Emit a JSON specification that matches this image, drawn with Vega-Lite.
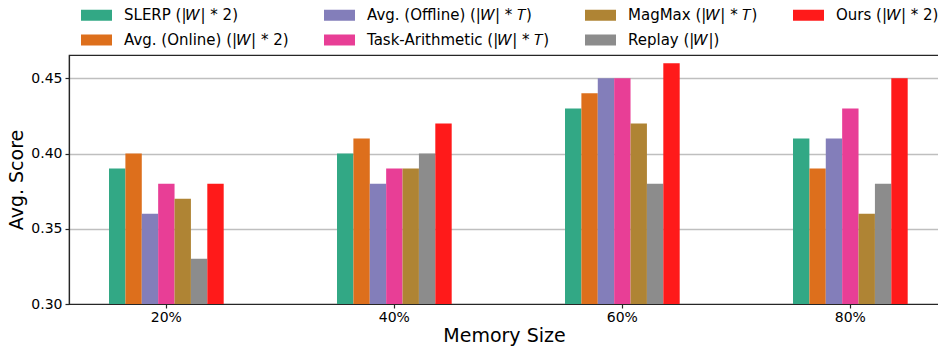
{
  "$schema": "https://vega.github.io/schema/vega-lite/v6.json",
  "autosize": {"type": "none"},
  "padding": {"left": 69, "top": 55, "right": 0, "bottom": 42},
  "width": 870,
  "height": 249,
  "config": {
    "font": "DejaVu Sans",
    "view": {"stroke": "#262626", "strokeWidth": 1.2},
    "axis": {
      "labelFont": "DejaVu Sans",
      "titleFont": "DejaVu Sans",
      "labelFontSize": 14,
      "titleFontSize": 19,
      "titleFontWeight": "normal",
      "labelColor": "#000000",
      "titleColor": "#000000",
      "domainColor": "#262626",
      "domainWidth": 1.2,
      "tickColor": "#262626",
      "tickWidth": 1.2,
      "tickSize": 4,
      "labelPadding": 3,
      "zindex": 1
    },
    "legend": {
      "labelFont": "DejaVu Sans",
      "labelFontSize": 15,
      "labelColor": "#000000",
      "labelLimit": 0
    }
  },
  "data": {
    "values": [
      {"group": "20%", "method": "SLERP (|𝑊| * 2)", "value": 0.39},
      {"group": "20%", "method": "Avg. (Online) (|𝑊| * 2)", "value": 0.40},
      {"group": "20%", "method": "Avg. (Offline) (|𝑊| * 𝑇)", "value": 0.36},
      {"group": "20%", "method": "Task-Arithmetic (|𝑊| * 𝑇)", "value": 0.38},
      {"group": "20%", "method": "MagMax (|𝑊| * 𝑇)", "value": 0.37},
      {"group": "20%", "method": "Replay (|𝑊|)", "value": 0.33},
      {"group": "20%", "method": "Ours (|𝑊| * 2)", "value": 0.38},
      {"group": "40%", "method": "SLERP (|𝑊| * 2)", "value": 0.40},
      {"group": "40%", "method": "Avg. (Online) (|𝑊| * 2)", "value": 0.41},
      {"group": "40%", "method": "Avg. (Offline) (|𝑊| * 𝑇)", "value": 0.38},
      {"group": "40%", "method": "Task-Arithmetic (|𝑊| * 𝑇)", "value": 0.39},
      {"group": "40%", "method": "MagMax (|𝑊| * 𝑇)", "value": 0.39},
      {"group": "40%", "method": "Replay (|𝑊|)", "value": 0.40},
      {"group": "40%", "method": "Ours (|𝑊| * 2)", "value": 0.42},
      {"group": "60%", "method": "SLERP (|𝑊| * 2)", "value": 0.43},
      {"group": "60%", "method": "Avg. (Online) (|𝑊| * 2)", "value": 0.44},
      {"group": "60%", "method": "Avg. (Offline) (|𝑊| * 𝑇)", "value": 0.45},
      {"group": "60%", "method": "Task-Arithmetic (|𝑊| * 𝑇)", "value": 0.45},
      {"group": "60%", "method": "MagMax (|𝑊| * 𝑇)", "value": 0.42},
      {"group": "60%", "method": "Replay (|𝑊|)", "value": 0.38},
      {"group": "60%", "method": "Ours (|𝑊| * 2)", "value": 0.46},
      {"group": "80%", "method": "SLERP (|𝑊| * 2)", "value": 0.41},
      {"group": "80%", "method": "Avg. (Online) (|𝑊| * 2)", "value": 0.39},
      {"group": "80%", "method": "Avg. (Offline) (|𝑊| * 𝑇)", "value": 0.41},
      {"group": "80%", "method": "Task-Arithmetic (|𝑊| * 𝑇)", "value": 0.43},
      {"group": "80%", "method": "MagMax (|𝑊| * 𝑇)", "value": 0.36},
      {"group": "80%", "method": "Replay (|𝑊|)", "value": 0.38},
      {"group": "80%", "method": "Ours (|𝑊| * 2)", "value": 0.45}
    ]
  },
  "mark": {"type": "bar", "clip": true},
  "encoding": {
    "x": {
      "field": "group",
      "type": "nominal",
      "sort": ["20%", "40%", "60%", "80%"],
      "scale": {"paddingInner": 0.497, "paddingOuter": 0.1564, "align": 0.561},
      "axis": {"labelAngle": 0, "title": "Memory Size", "titlePadding": 2, "labelPadding": 2, "grid": false}
    },
    "xOffset": {
      "field": "method",
      "type": "nominal",
      "scale": {
        "domain": ["SLERP (|𝑊| * 2)", "Avg. (Online) (|𝑊| * 2)", "Avg. (Offline) (|𝑊| * 𝑇)", "Task-Arithmetic (|𝑊| * 𝑇)", "MagMax (|𝑊| * 𝑇)", "Replay (|𝑊|)", "Ours (|𝑊| * 2)"],
        "paddingInner": 0,
        "paddingOuter": 0
      }
    },
    "y": {
      "field": "value",
      "type": "quantitative",
      "scale": {"domain": [0.30, 0.4655], "nice": false, "zero": false},
      "axis": {
        "title": "Avg. Score",
        "values": [0.30, 0.35, 0.40, 0.45],
        "format": ".2f",
        "grid": true,
        "gridColor": "#bfbfbf",
        "gridWidth": 1.5,
        "gridOpacity": {"condition": {"test": "datum.value <= 0.3", "value": 0}, "value": 1},
        "titlePadding": 4
      }
    },
    "color": {
      "field": "method",
      "type": "nominal",
      "scale": {
        "domain": ["SLERP (|𝑊| * 2)", "Avg. (Offline) (|𝑊| * 𝑇)", "MagMax (|𝑊| * 𝑇)", "Ours (|𝑊| * 2)", "Avg. (Online) (|𝑊| * 2)", "Task-Arithmetic (|𝑊| * 𝑇)", "Replay (|𝑊|)"],
        "range": ["#32a885", "#837eba", "#af8434", "#ff1a1a", "#dd6f1c", "#e83e96", "#8c8c8c"]
      },
      "legend": {
        "title": null,
        "orient": "none",
        "legendX": 12,
        "legendY": -55.5,
        "direction": "horizontal",
        "columns": 4,
        "symbolType": "M-1,-0.355H1V0.355H-1Z",
        "symbolSize": 961,
        "symbolStrokeWidth": 0,
        "symbolOpacity": 1,
        "labelOffset": 12,
        "columnPadding": 35,
        "rowPadding": 1
      }
    }
  }
}
